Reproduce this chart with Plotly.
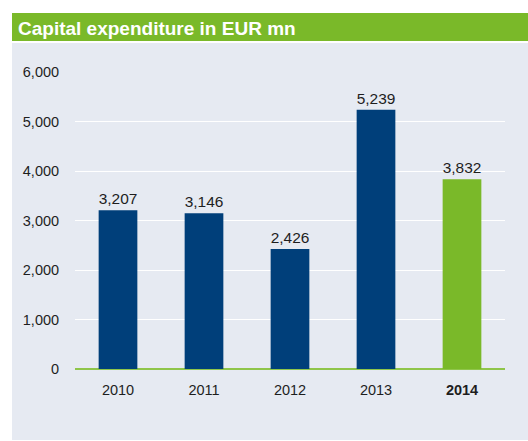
import plotly.graph_objects as go

years = ["2010", "2011", "2012", "2013", "2014"]
year_labels = ["2010", "2011", "2012", "2013", "<b>2014</b>"]
capex = [3207, 3146, 2426, 5239, 3832]
bar_colors = ["#003f7a", "#003f7a", "#003f7a", "#003f7a", "#7ab929"]
value_text = [f"{v:,}" for v in capex]
y_ticks = [0, 1000, 2000, 3000, 4000, 5000, 6000]
title_text = "<b>Capital expenditure in EUR mn</b>"

FONT = "Liberation Sans, Arial, sans-serif"

W, H = 528, 441
# target plot area in page pixels
PX0, PX1, PY0, PY1 = 75, 505, 72, 369
L = PX0
T = PY0
R = W - L - (PX1 - PX0)
B = H - T - (PY1 - PY0)
pw, ph = PX1 - PX0, PY1 - PY0

def px_x(p):
    return (p - PX0) / pw

def px_y(p):
    return (PY1 - p) / ph

fig = go.Figure()
fig.add_trace(go.Bar(
    x=years, y=capex, marker=dict(color=bar_colors, line=dict(width=0)),
    width=0.45, text=value_text, textposition="outside", cliponaxis=False,
    textfont=dict(size=15.5, color="#1e1e1e", family=FONT),
    hoverinfo="skip",
))

fig.update_layout(
    width=W, height=H,
    margin=dict(l=L, r=R, t=T, b=B, pad=0),
    paper_bgcolor="white", plot_bgcolor="rgba(0,0,0,0)",
    showlegend=False,
    font=dict(family=FONT, size=14, color="#1e1e1e"),
    shapes=[
        dict(type="rect", xref="paper", yref="paper", layer="below",
             x0=px_x(12), x1=px_x(540), y0=px_y(41), y1=px_y(13),
             fillcolor="#7ab929", line=dict(width=0)),
        dict(type="rect", xref="paper", yref="paper", layer="below",
             x0=px_x(12), x1=px_x(540), y0=px_y(440), y1=px_y(43),
             fillcolor="#e6eaf2", line=dict(width=0)),
    ],
    annotations=[
        dict(text=title_text, xref="paper", yref="paper",
             x=px_x(16), y=px_y(28), xanchor="left", yanchor="middle",
             showarrow=False, font=dict(size=19, color="white", family=FONT)),
    ],
    xaxis=dict(
        tickmode="array", tickvals=years, ticktext=year_labels,
        showgrid=False, showline=False, zeroline=False,
        ticks="outside", ticklen=8, tickcolor="rgba(0,0,0,0)",
        tickfont=dict(size=14.5, color="#1e1e1e"),
    ),
    yaxis=dict(
        range=[0, 6000], tickvals=y_ticks, tickformat=",",
        showgrid=True, gridcolor="white", gridwidth=1,
        zeroline=True, zerolinecolor="#8fc54a", zerolinewidth=2,
        showline=False, ticks="outside", ticklen=12, tickcolor="rgba(0,0,0,0)",
        tickfont=dict(size=14.5, color="#1e1e1e"),
    ),
    bargap=0.55,
)

fig.write_html(
    "out.html",
    config={"displayModeBar": False},
    post_script="document.body.style.margin='0';document.body.style.overflow='hidden';",
)
